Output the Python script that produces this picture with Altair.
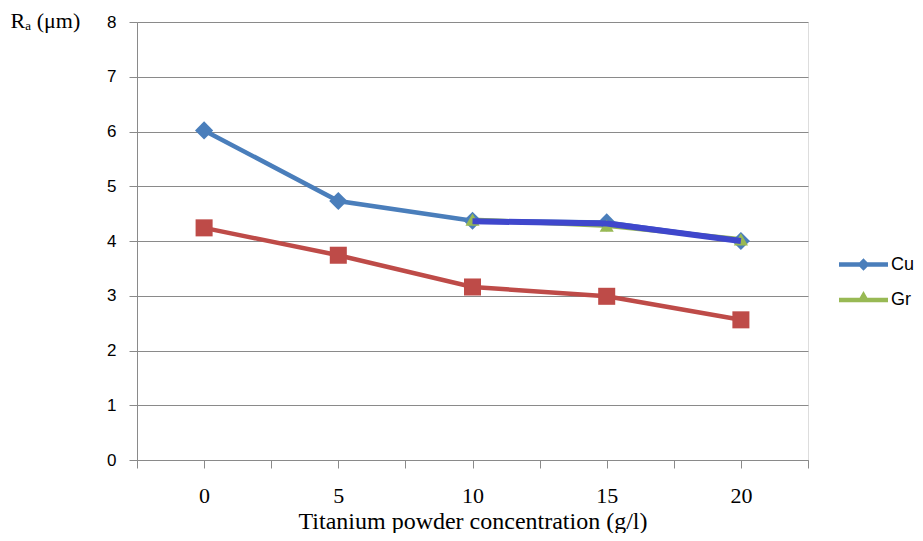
import altair as alt
import pandas as pd

# ---- data ----
conc = [0, 5, 10, 15, 20]
cu_vals = [6.02, 4.73, 4.37, 4.34, 4.00]          # blue diamonds
gr_vals = [None, None, 4.39, 4.28, 4.03]          # green triangles
red_vals = [4.24, 3.74, 3.16, 2.99, 2.56]         # red squares
overlay_vals = [None, None, 4.36, 4.32, 4.00]     # dark blue overlay line
legend_names = ["Cu", "Gr"]

BLUE = "#4A7EBB"
GREEN = "#98B954"
RED = "#BE4B48"
DARK = "#3F47CC"
AXIS_GRAY = "#8a8a8a"

def frame(vals):
    return pd.DataFrame({"x": conc, "y": vals}).dropna()

cu_df = frame(cu_vals)
gr_df = frame(gr_vals)
red_df = frame(red_vals)
ov_df = frame(overlay_vals)
leg_df = pd.DataFrame({"series": legend_names, "x": [None, None], "y": [None, None]})

x_ticks = [-2.5 + 2.5 * i for i in range(11)]

X = alt.X(
    "x:Q",
    scale=alt.Scale(domain=[-2.5, 22.5], nice=False, zero=False),
    axis=alt.Axis(
        values=x_ticks,
        labelExpr="datum.value % 5 == 0 ? format(datum.value, 'd') : ''",
        grid=False,
        domainColor=AXIS_GRAY,
        tickColor=AXIS_GRAY,
        tickSize=8,
        labelFont="Liberation Serif",
        labelFontSize=22,
        labelColor="black",
        labelPadding=17,
        labelOverlap=False,
        title="Titanium powder concentration (g/l)",
        titleFont="Liberation Serif",
        titleFontSize=24,
        titleFontWeight="normal",
        titleColor="black",
        titleY=68.5,
        titleBaseline="alphabetic",
    ),
)
Y = alt.Y(
    "y:Q",
    scale=alt.Scale(domain=[0, 8], nice=False),
    axis=alt.Axis(
        values=list(range(9)),
        grid=True,
        gridColor=AXIS_GRAY,
        domainColor=AXIS_GRAY,
        tickColor=AXIS_GRAY,
        tickSize=8,
        labelFont="Liberation Sans",
        labelFontSize=17,
        labelColor="black",
        labelPadding=13,
        title="Rₐ (μm)",
        titleAngle=0,
        titleX=-127,
        titleY=5,
        titleAlign="left",
        titleBaseline="alphabetic",
        titleFont="Liberation Serif",
        titleFontSize=22,
        titleFontWeight="normal",
        titleColor="black",
    ),
)

def line(df, color, w=4.5):
    return alt.Chart(df).mark_line(color=color, strokeWidth=w).encode(x=X, y=Y)

cu_line = line(cu_df, BLUE)
gr_line = line(gr_df, GREEN)
red_line = line(red_df, RED)
ov_line = line(ov_df, DARK, 6)

cu_pts = alt.Chart(cu_df).mark_point(shape="diamond", filled=True, opacity=1, size=330, color=BLUE).encode(x=X, y=Y)
gr_pts = alt.Chart(gr_df).mark_point(shape="triangle-up", filled=True, opacity=1, size=200, color=GREEN).encode(x=X, y=Y)
red_pts = alt.Chart(red_df).mark_square(opacity=1, size=290, color=RED).encode(x=X, y=Y)

diamond_path = "M-2.45,0L2.45,0M0,-0.3L0.3,0L0,0.3L-0.3,0Z"
triangle_path = "M-2.45,0L2.45,0M0,-0.45L0.2,-0.1L-0.2,-0.1Z"

legend_layer = alt.Chart(leg_df).mark_point(filled=False, strokeWidth=4.5, opacity=1).encode(
    x=X,
    y=Y,
    color=alt.Color(
        "series:N",
        scale=alt.Scale(domain=legend_names, range=[BLUE, GREEN]),
        legend=alt.Legend(
            orient="none",
            legendX=714,
            legendY=230,
            title=None,
            padding=0,
            symbolSize=400,
            symbolStrokeWidth=4.5,
            labelFont="Liberation Sans",
            labelFontSize=18,
            labelColor="black",
            labelOffset=15,
            rowPadding=9.5,
        ),
    ),
    shape=alt.Shape(
        "series:N",
        scale=alt.Scale(domain=legend_names, range=[diamond_path, triangle_path]),
    ),
)

chart = alt.layer(
    cu_line, red_line, gr_line, cu_pts, red_pts, gr_pts, ov_line, legend_layer
).properties(
    width=671,
    height=438,
    autosize=alt.AutoSizeParams(type="none"),
    padding={"left": 129, "top": 14, "right": 107, "bottom": 73},
).configure_view(stroke=None).configure(background="white")

chart.save("out.html", embed_options={"renderer": "svg", "actions": False})
